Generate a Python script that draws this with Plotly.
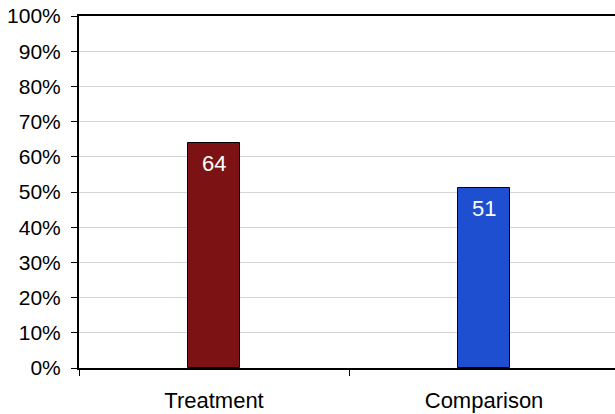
import plotly.graph_objects as go

# data
groups = ["Treatment", "Comparison"]
values = [64, 51]
bar_colors = ["#7d1214", "#1e4fd0"]
y_ticks = [0, 10, 20, 30, 40, 50, 60, 70, 80, 90, 100]
y_tick_labels = [f"{v}%" for v in y_ticks]

font = "Liberation Sans, Arial, sans-serif"

fig = go.Figure()

fig.add_trace(
    go.Bar(
        x=groups,
        y=values,
        width=0.19,
        marker=dict(color=bar_colors, line=dict(color="black", width=1)),
        hoverinfo="skip",
    )
)

# value labels inside the top of each bar
for g, v in zip(groups, values):
    fig.add_annotation(
        x=g, y=v, text=str(v), showarrow=False,
        yanchor="top", yshift=-6,
        font=dict(family=font, size=22, color="white"),
    )

fig.update_yaxes(
    range=[0, 100],
    tickvals=y_ticks,
    ticktext=y_tick_labels,
    tickfont=dict(family=font, size=21, color="black"),
    showgrid=True,
    gridcolor="#d4d4d4",
    gridwidth=1,
    showline=True,
    linecolor="black",
    linewidth=2,
    ticks="outside",
    ticklen=6,
    tickcolor="black",
    ticklabelstandoff=6,
    ticklabeloverflow="allow",
    zeroline=False,
    automargin=False,
)

fig.update_xaxes(
    range=[-0.5, 1.485],
    tickfont=dict(family=font, size=22, color="black"),
    showline=True,
    linecolor="black",
    linewidth=2,
    mirror=True,
    ticks="outside",
    tickson="boundaries",
    ticklen=6,
    tickcolor="black",
    ticklabelstandoff=12,
    showgrid=False,
    automargin=False,
)

fig.update_layout(
    width=615,
    height=414,
    margin=dict(l=79, r=0, t=16, b=46),
    plot_bgcolor="white",
    paper_bgcolor="white",
    showlegend=False,
    bargap=0,
)

# drop the default 8px body margin so the figure fills the window
fig.write_html(
    "out.html",
    config={"displayModeBar": False},
    post_script="document.body.style.margin = '0';",
)
